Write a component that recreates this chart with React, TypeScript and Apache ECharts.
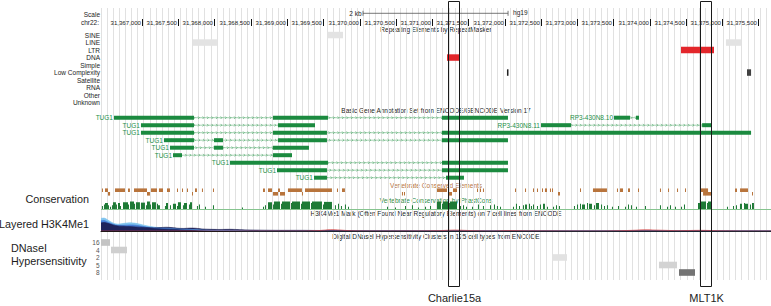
import React, { useEffect, useRef } from "react";
import * as echarts from "echarts";

// ---------------- data (positions are bp offsets from CHROM_BASE) ----------------
const CHROM = "chr22";
const CHROM_BASE = 31366000;
const VIEW_START = 435;
const VIEW_END = 9674;
const ASSEMBLY = "hg19";

const rulerTicks = [1000, 1500, 2000, 2500, 3000, 3500, 4000, 4500, 5000, 5500, 6000, 6500, 7000, 7500, 8000, 8500, 9000, 9500];
const scaleBar = [4048, 6048];
const scaleBarLabel = "2 kb";

const repeatClasses = ["SINE", "LINE", "LTR", "DNA", "Simple", "Low Complexity", "Satellite", "RNA", "Other", "Unknown"];
// [classIndex, start, end, score, name]
const repeatElements: [number, number, number, number, string][] = [
  [0, 3565, 3772, 40, ""],
  [1, 1703, 2034, 40, ""],
  [1, 9053, 9260, 40, ""],
  [2, 8433, 8888, 1000, "MLT1K"],
  [3, 5206, 5385, 1000, "Charlie15a"],
  [5, 6033, 6054, 1000, ""],
  [5, 9343, 9399, 850, ""],
];

// gene transcripts
const geneNames = ["TUG1", "TUG1", "TUG1", "TUG1", "TUG1", "TUG1", "TUG1", "TUG1", "TUG1", "RP3-430N8.10", "RP3-430N8.11"];
const geneRows = [0, 1, 2, 3, 4, 5, 6, 7, 8, 0, 1];
const geneExons: [number, number][][] = [
  [[614, 1717], [2806, 3565], [5137, 6047]],
  [[986, 1717], [2875, 3386]],
  [[986, 1717], [2806, 3551], [5137, 9399]],
  [[1303, 1717], [1993, 2117], [2875, 3551], [5137, 6047]],
  [[1386, 1717], [1993, 2117], [2806, 3303]],
  [[1428, 1552], [2806, 3069]],
  [[2214, 3565], [5137, 6047]],
  [[2862, 3551], [5137, 6047]],
  [[3372, 3551], [5192, 5440]],
  [[7509, 7730], [7812, 7854]],
  [[6502, 6916], [8724, 8848]],
];

// vertebrate conserved elements [start, end, row]
const conservedElements: [number, number, number][] = [
  [448, 462, 0], [490, 531, 0], [628, 766, 0], [807, 834, 0], [890, 1069, 0], [1124, 1207, 0], [1234, 1290, 0],
  [1345, 1386, 0], [1483, 1496, 0], [1552, 1565, 0], [1621, 1634, 0], [1731, 1758, 0], [1827, 1841, 0], [1979, 1993, 0],
  [2669, 2696, 0], [2738, 2793, 0], [2876, 2903, 0], [3013, 3206, 0], [3248, 3620, 0], [3689, 3703, 0], [3758, 3799, 0],
  [5068, 5206, 0], [5289, 5344, 0], [5620, 5634, 0], [5661, 5675, 0], [5702, 5716, 0], [6144, 6158, 0], [6282, 6296, 0],
  [6392, 6406, 0], [6447, 6461, 0], [6516, 6530, 0], [6557, 6585, 0], [6626, 6640, 0], [6654, 6668, 0], [7040, 7054, 0],
  [7219, 7412, 0], [7550, 7564, 0], [7592, 7633, 0], [7702, 7730, 0], [7840, 7854, 0], [8143, 8157, 0], [8254, 8268, 0],
  [8378, 8392, 0], [8488, 8502, 0], [8695, 8806, 0], [9178, 9205, 0], [9247, 9357, 0],
  [531, 560, 1], [1069, 1110, 1], [1690, 1703, 1], [2807, 2876, 1], [2903, 2972, 1], [3206, 3220, 1], [4585, 4599, 1],
  [4613, 4627, 1], [5220, 5275, 1], [6737, 6764, 1], [8737, 8861, 1], [9412, 9426, 1],
];

// phastCons conservation [start, end, score 0..1]
const phastCons: [number, number, number][] = [
  [448, 462, 0.4], [476, 490, 0.6], [490, 531, 0.8], [531, 545, 0.5], [559, 573, 0.3],
  [586, 600, 0.5], [600, 641, 0.9], [641, 655, 0.6], [669, 697, 0.8], [697, 711, 0.4],
  [738, 807, 0.9], [807, 821, 0.6], [835, 890, 1], [890, 903, 0.7], [917, 972, 0.9],
  [986, 1041, 0.85], [1055, 1069, 0.5], [1069, 1110, 1], [1110, 1124, 0.6], [1138, 1193, 0.9], [1207, 1221, 0.7], [1221, 1248, 0.5],
  [1317, 1331, 0.4], [1331, 1359, 0.8], [1386, 1400, 0.5],
  [1427, 1469, 0.7], [1483, 1496, 0.4], [1496, 1538, 0.9], [1565, 1579, 0.5], [1579, 1621, 0.8], [1648, 1662, 0.6], [1662, 1690, 0.9],
  [1758, 1772, 0.4], [1786, 1800, 0.6], [1869, 1883, 0.3], [1979, 1993, 0.5], [2379, 2393, 0.2], [2669, 2683, 0.3], [2696, 2710, 0.5],
  [2738, 2793, 0.9], [2806, 2820, 0.6], [2820, 2903, 1], [2917, 2931, 0.7], [2931, 3041, 1], [3055, 3069, 0.8], [3069, 3179, 1],
  [3193, 3206, 0.7], [3206, 3317, 1], [3331, 3344, 0.8], [3344, 3482, 1], [3496, 3510, 0.6], [3510, 3620, 0.95],
  [3661, 3675, 0.5], [3703, 3717, 0.7], [3744, 3758, 0.4], [3799, 3813, 0.6], [3841, 3855, 0.3],
  [4379, 4393, 0.3], [4489, 4503, 0.2], [4627, 4641, 0.4], [4723, 4737, 0.5], [4806, 4820, 0.2], [4903, 4917, 0.3], [4972, 4986, 0.4],
  [5068, 5123, 1], [5137, 5151, 0.7], [5151, 5220, 1], [5234, 5247, 0.8], [5247, 5344, 1],
  [5385, 5399, 0.4], [5427, 5441, 0.5], [5468, 5482, 0.3], [5551, 5565, 0.3], [5633, 5647, 0.6], [5702, 5716, 0.4], [5799, 5813, 0.5],
  [5854, 5868, 0.6], [5895, 5909, 0.4], [5937, 5951, 0.3],
  [6116, 6130, 0.3], [6157, 6171, 0.7], [6199, 6213, 0.4], [6254, 6268, 0.5], [6282, 6309, 0.6], [6337, 6351, 0.7], [6364, 6378, 0.4],
  [6392, 6406, 0.6], [6447, 6461, 0.4], [6488, 6502, 0.6], [6530, 6557, 0.7], [6585, 6599, 0.3], [6668, 6682, 0.3], [6709, 6723, 0.5],
  [6750, 6764, 0.4], [6957, 6971, 0.4], [6999, 7013, 0.6], [7040, 7054, 0.7], [7068, 7109, 0.6], [7137, 7151, 0.8], [7164, 7206, 0.7],
  [7233, 7247, 0.5], [7261, 7302, 0.8], [7330, 7344, 0.6], [7371, 7385, 0.4], [7412, 7426, 0.5], [7481, 7495, 0.3], [7564, 7578, 0.4],
  [7661, 7675, 0.3], [7702, 7716, 0.6], [7743, 7757, 0.5], [7812, 7826, 0.3], [7936, 7950, 0.4], [8143, 8157, 0.5], [8240, 8254, 0.3],
  [8281, 8295, 0.5], [8350, 8364, 0.3], [8433, 8447, 0.3], [8474, 8488, 0.6],
  [8667, 8695, 0.8], [8709, 8778, 1], [8791, 8805, 0.8], [8805, 8860, 1],
  [9067, 9081, 0.3], [9150, 9164, 0.4], [9191, 9205, 0.5], [9246, 9274, 0.7], [9302, 9316, 0.8], [9315, 9357, 0.7], [9384, 9398, 0.6], [9412, 9439, 0.8],
];

// layered H3K4Me1 signal (0..100)
const h3k4LightBlue: [number, number][] = [
  [435, 74], [476, 76], [531, 64], [600, 47], [669, 40], [752, 45], [835, 48], [917, 45], [1000, 37], [1083, 29], [1165, 23],
  [1248, 20], [1331, 18], [1414, 16], [1496, 14], [1579, 12], [1662, 10], [1745, 8], [1827, 6], [1938, 4], [2076, 3], [2214, 2],
  [2351, 1], [2489, 0], [9674, 0],
];
const h3k4Blue: [number, number][] = [
  [435, 60], [476, 62], [531, 52], [600, 40], [669, 33], [752, 34], [835, 36], [917, 34], [1000, 28], [1083, 22], [1165, 18],
  [1248, 16], [1331, 14], [1414, 13], [1496, 12], [1579, 10], [1662, 9], [1745, 7], [1827, 5], [1938, 3], [2214, 2], [2489, 0], [9674, 0],
];
const h3k4Navy: [number, number][] = [
  [435, 48], [476, 50], [531, 45], [600, 36], [669, 30], [752, 28], [835, 26], [917, 24], [1000, 22], [1083, 20], [1165, 18],
  [1248, 20], [1331, 22], [1414, 20], [1496, 16], [1579, 15], [1662, 17], [1745, 16], [1827, 12], [1938, 10], [2076, 9], [2214, 10],
  [2351, 8], [2489, 6], [2627, 5], [2903, 4], [3179, 4], [3455, 3], [3730, 3], [4006, 2], [4558, 2], [5109, 1], [6000, 1], [9674, 1],
];
const h3k4Red: [number, number][] = [
  [435, 0], [3179, 0], [3455, 3], [3600, 8], [3730, 6], [3900, 1], [4300, 0], [5100, 2], [5300, 6], [5500, 3], [5800, 0], [6100, 3],
  [6300, 1], [7300, 0], [7700, 3], [7950, 7], [8143, 5], [8400, 2], [8700, 4], [9000, 1], [9300, 0], [9674, 0],
];

// DNaseI clusters
const dnaseRowLabels = ["16", "4", "2", "5", "8"];
// [row, start, end, score]
const dnaseClusters: [number, number, number, number][] = [
  [0, 435, 559, 325],
  [1, 573, 793, 233],
  [2, 6654, 6861, 75],
  [3, 8129, 8378, 200],
  [4, 8405, 8626, 1000],
];

// highlighted repeats
const highlightNames = ["Charlie15a", "MLT1K"];
const highlightSpans: [number, number][] = [[5220, 5372], [8695, 8848]];

// ---------------- layout / style ----------------
const FONT = "'Liberation Sans', Arial, Helvetica, sans-serif";
const GREEN = "#1b8a3f";
const GREEN_TEXT = "#249048";
const BROWN = "#b8743c";
const PHAST = "#1e7a36";
const TEXT = "#1c1c1c";
const ROW_H = 7.5;
const REPEAT_Y0 = 35;
const GENE_Y0 = 117.7;
const CONS_Y = [190.2, 193.8];
const PHAST_BASE = 209;
const PHAST_H = 7.5;
const DNASE_Y0 = 242.5;
const DATA_LEFT = 101;
const DATA_CENTER = 436;

function txt(text: string, x: number, y: number, o: any = {}) {
  const align = o.align || "right";
  return {
    type: "text",
    x,
    y,
    silent: true,
    style: {
      text,
      fill: o.fill || TEXT,
      fontSize: o.size || 6.5,
      fontFamily: FONT,
      align,
      verticalAlign: "middle",
      textAlign: align,
      textVerticalAlign: "middle",
    },
  };
}

function gray(score: number, k: number) {
  const v = Math.max(0, Math.min(255, Math.round(235 - score * k)));
  return `rgb(${v},${v},${v})`;
}

export default function App() {
  const ref = useRef<HTMLDivElement>(null);

  useEffect(() => {
    if (!ref.current) return;
    const chart = echarts.init(ref.current, null, { renderer: "svg" });

    const base = { type: "custom", xAxisIndex: 0, yAxisIndex: 0, clip: false, silent: true, animation: false };

    const graphicEls: any[] = [
      txt("Scale", 100, 14.5),
      txt(CHROM + ":", 99, 22.8),
      { type: "line", silent: true, shape: { x1: 101.5, y1: 19, x2: 101.5, y2: 26 }, style: { stroke: "#111", lineWidth: 1 } },
      txt("Repeating Elements by RepeatMasker", DATA_CENTER, 29, { align: "center" }),
      ...repeatClasses.map((c, i) => txt(c, 100, REPEAT_Y0 + i * ROW_H)),
      txt("Basic Gene Annotation Set from ENCODE/GENCODE Version 17", DATA_CENTER, 110, { align: "center" }),
      txt("Vertebrate Conserved Elements", DATA_CENTER, 185, { align: "center", fill: BROWN }),
      txt("Vertebrate Conservation by PhastCons", DATA_CENTER, 200, { align: "center", fill: "#2f8a45" }),
      txt("H3K4Me1 Mark (Often Found Near Regulatory Elements) on 7 cell lines from ENCODE", DATA_CENTER, 213.5, { align: "center" }),
      txt("Digital DNaseI Hypersensitivity Clusters in 125 cell types from ENCODE", DATA_CENTER, 236, { align: "center" }),
      ...dnaseRowLabels.map((l, i) => txt(l, 99.5, DNASE_Y0 + i * ROW_H, { fill: "#555" })),
      txt("Conservation", 89, 199, { size: 10.8 }),
      txt("Layered H3K4Me1", 89, 224, { size: 10.8 }),
      txt("DNaseI", 11, 248, { size: 10.8, align: "left" }),
      txt("Hypersensitivity", 11, 261, { size: 10.8, align: "left" }),
    ];

    const option: any = {
      animation: false,
      backgroundColor: "#ffffff",
      grid: [
        { left: DATA_LEFT, right: 0, top: 0, bottom: 0, outerBoundsMode: "none" },
        { left: DATA_LEFT, right: 0, top: 8, bottom: 26, outerBoundsMode: "none" },
        { left: DATA_LEFT, right: 0, top: 214, height: 17, outerBoundsMode: "none" },
      ],
      xAxis: [
        { gridIndex: 0, type: "value", min: VIEW_START, max: VIEW_END, show: false },
        {
          gridIndex: 1, type: "value", min: 0, max: 1098, interval: 10,
          axisLine: { show: false }, axisTick: { show: false }, axisLabel: { show: false },
          splitLine: { show: true, lineStyle: { color: "#e1e1e1", width: 1 } },
        },
        {
          gridIndex: 2, type: "value", min: VIEW_START, max: VIEW_END,
          axisLine: { show: true, onZero: false, lineStyle: { color: "#151515", width: 1 } },
          axisTick: { show: false }, axisLabel: { show: false }, splitLine: { show: false },
        },
      ],
      yAxis: [
        { gridIndex: 0, type: "value", min: 0, max: 306, inverse: true, show: false },
        { gridIndex: 1, type: "value", min: 0, max: 1, show: false },
        { gridIndex: 2, type: "value", min: 0, max: 100, show: false },
      ],
      graphic: { elements: graphicEls },
      series: [
        // scale bar
        {
          ...base,
          data: [scaleBar],
          renderItem: (_p: any, api: any) => {
            const x0 = api.coord([api.value(0), 13.3])[0];
            const x1 = api.coord([api.value(1), 13.3])[0];
            const y = 13.3;
            const st = { stroke: "#555", lineWidth: 0.8 };
            return {
              type: "group",
              children: [
                { type: "line", shape: { x1: x0, y1: y, x2: x1, y2: y }, style: st },
                { type: "line", shape: { x1: x0, y1: y - 2.5, x2: x0, y2: y + 2.5 }, style: st },
                { type: "line", shape: { x1: x1, y1: y - 2.5, x2: x1, y2: y + 2.5 }, style: st },
                txt(scaleBarLabel, x0 - 1.5, y),
                txt(ASSEMBLY, x1 + 5, y - 0.8, { align: "left" }),
              ],
            };
          },
        },
        // ruler
        {
          ...base,
          data: rulerTicks.map((t) => [t]),
          renderItem: (_p: any, api: any) => {
            const v = api.value(0);
            const x = Math.round(api.coord([v, 22])[0]) + 0.5;
            return {
              type: "group",
              children: [
                { type: "line", shape: { x1: x, y1: 19, x2: x, y2: 26 }, style: { stroke: "#111", lineWidth: 1 } },
                txt((CHROM_BASE + v).toLocaleString("en-US"), x - 1.5, 22.5, { size: 6.1 }),
              ],
            };
          },
        },
        // repeats
        {
          ...base,
          data: repeatElements.map((r, i) => [r[1], r[2], r[0], r[3], i]),
          renderItem: (_p: any, api: any) => {
            const y = REPEAT_Y0 + api.value(2) * ROW_H;
            const [x0, yc] = api.coord([api.value(0), y]);
            const x1 = api.coord([api.value(1), y])[0];
            const name = repeatElements[api.value(4)][4];
            const fill = highlightNames.includes(name) ? "#e3262b" : gray(api.value(3), 0.2);
            return { type: "rect", shape: { x: x0, y: yc - 3.2, width: Math.max(1.5, x1 - x0), height: 6.5 }, style: { fill } };
          },
        },
        // genes
        {
          ...base,
          data: geneExons.map((ex, i) => [ex[0][0], ex[ex.length - 1][1], geneRows[i], i]),
          renderItem: (_p: any, api: any) => {
            const i = api.value(3);
            const yRow = GENE_Y0 + api.value(2) * ROW_H;
            const [x0, y] = api.coord([api.value(0), yRow]);
            const x1 = api.coord([api.value(1), yRow])[0];
            const children: any[] = [
              { type: "line", shape: { x1: x0, y1: y, x2: x1, y2: y }, style: { stroke: "#7cc08f", lineWidth: 0.7 } },
            ];
            for (let x = x0 + 4; x < x1 - 2; x += 4.5) {
              children.push({
                type: "polyline",
                shape: { points: [[x - 0.9, y - 1.3], [x + 0.4, y], [x - 0.9, y + 1.3]] },
                style: { stroke: "#3f9e5c", fill: null, lineWidth: 0.6 },
              });
            }
            geneExons[i].forEach(([s, e]) => {
              const a = api.coord([s, yRow])[0];
              const b = api.coord([e, yRow])[0];
              children.push({ type: "rect", shape: { x: a, y: y - 2, width: Math.max(1, b - a), height: 4 }, style: { fill: GREEN } });
            });
            children.push(txt(geneNames[i], x0 - 1, y, { fill: GREEN_TEXT }));
            return { type: "group", children };
          },
        },
        // conserved elements
        {
          ...base,
          data: conservedElements,
          renderItem: (_p: any, api: any) => {
            const yRow = CONS_Y[api.value(2)];
            const [x0, y] = api.coord([api.value(0), yRow]);
            const x1 = api.coord([api.value(1), yRow])[0];
            return { type: "rect", shape: { x: x0, y: y - 1.8, width: Math.max(1, x1 - x0), height: 3.6 }, style: { fill: BROWN } };
          },
        },
        // phastCons baseline
        {
          ...base,
          data: [[VIEW_START, VIEW_END]],
          renderItem: (_p: any, api: any) => {
            const [x0, y] = api.coord([api.value(0), PHAST_BASE]);
            const x1 = api.coord([api.value(1), PHAST_BASE])[0];
            return { type: "line", shape: { x1: x0, y1: y + 0.5, x2: x1, y2: y + 0.5 }, style: { stroke: "#86c48f", lineWidth: 1 } };
          },
        },
        // phastCons
        {
          ...base,
          data: phastCons,
          renderItem: (_p: any, api: any) => {
            const [x0, yb] = api.coord([api.value(0), PHAST_BASE]);
            const x1 = api.coord([api.value(1), PHAST_BASE])[0];
            const h = api.value(2) * PHAST_H;
            return { type: "rect", shape: { x: x0, y: yb - h, width: Math.max(1, x1 - x0), height: h }, style: { fill: PHAST } };
          },
        },
        // H3K4Me1 layers
        ...[
          { d: h3k4LightBlue, c: "#7cc3ee", o: 0.95 },
          { d: h3k4Blue, c: "#3d74d2", o: 0.85 },
          { d: h3k4Navy, c: "#1c1f55", o: 0.95 },
          { d: h3k4Red, c: "#d23b3b", o: 0.8 },
        ].map((l) => ({
          type: "line",
          xAxisIndex: 2,
          yAxisIndex: 2,
          data: l.d,
          smooth: 0.3,
          symbol: "none",
          silent: true,
          animation: false,
          lineStyle: { color: l.c, width: 0.6 },
          areaStyle: { color: l.c, opacity: l.o },
        })),
        // DNase clusters
        {
          ...base,
          data: dnaseClusters,
          renderItem: (_p: any, api: any) => {
            const yRow = DNASE_Y0 + api.value(0) * ROW_H;
            const [x0, y] = api.coord([api.value(1), yRow]);
            const x1 = api.coord([api.value(2), yRow])[0];
            return { type: "rect", shape: { x: x0, y: y - 3.3, width: Math.max(1, x1 - x0), height: 6.6 }, style: { fill: gray(api.value(3), 0.12) } };
          },
        },
        // highlight boxes
        {
          ...base,
          z: 10,
          data: highlightSpans.map((s, i) => [s[0], s[1], i]),
          renderItem: (_p: any, api: any) => {
            const [x0, yTop] = api.coord([api.value(0), 1]);
            const [x1, yBot] = api.coord([api.value(1), 286]);
            const yLab = api.coord([api.value(0), 298])[1];
            return {
              type: "group",
              children: [
                {
                  type: "rect",
                  shape: { x: Math.round(x0) + 0.5, y: yTop + 0.5, width: Math.round(x1 - x0), height: yBot - yTop },
                  style: { stroke: "#1a1a1a", lineWidth: 1, fill: null },
                },
                txt(highlightNames[api.value(2)], (x0 + x1) / 2 + 1, yLab, { align: "center", size: 11 }),
              ],
            };
          },
        },
      ],
    };

    chart.setOption(option);
    return () => chart.dispose();
  }, []);

  return (
    <div
      ref={ref}
      style={{ position: "absolute", left: 0, top: 0, width: 771, height: 306, background: "#fff" }}
    />
  );
}
